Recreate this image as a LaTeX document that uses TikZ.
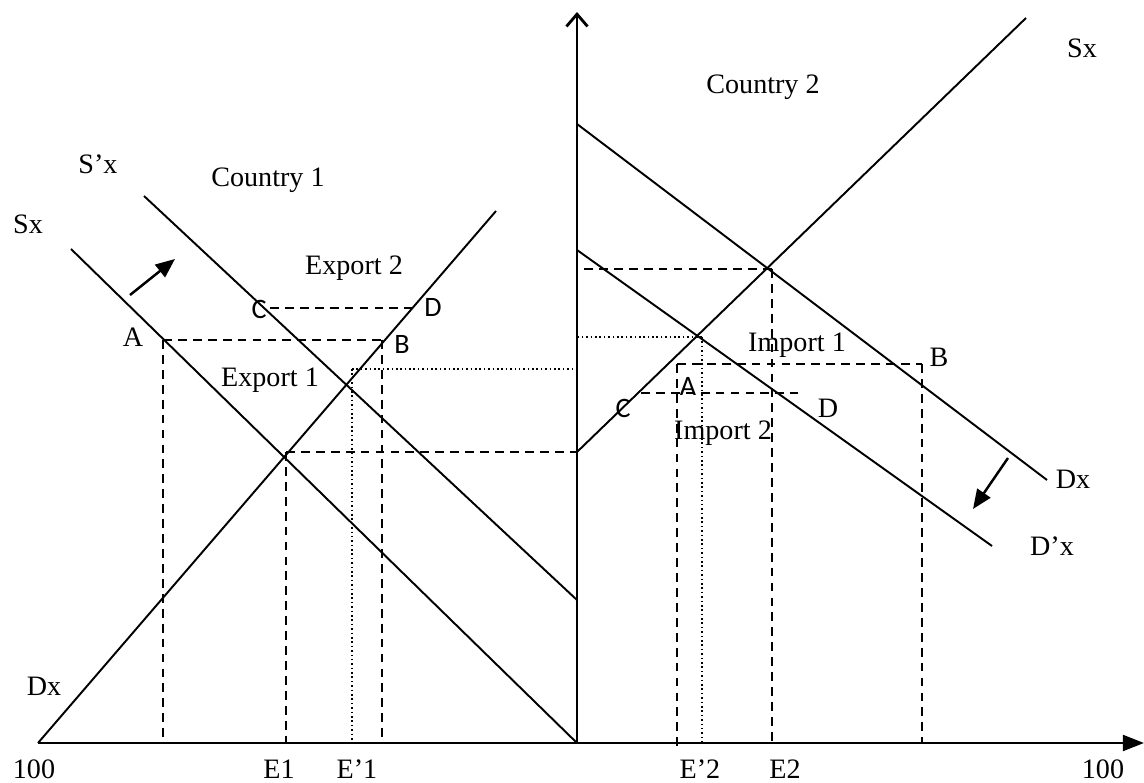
\documentclass[tikz,border=0pt]{standalone}
\usepackage{fontspec}
\setmainfont{Liberation Serif}
\newfontfamily\lettersans{Carlito}
\usetikzlibrary{arrows.meta}

\tikzset{
	axisline/.style={line width=1.6pt},
	curve/.style={line width=1.1pt},
	guide/.style={line width=0.9pt, dash pattern=on 5pt off 3.5pt},
	dotguide/.style={line width=0.9pt, dash pattern=on 0.9pt off 1.6pt},
	shift arrow/.style={line width=1.4pt, -{Triangle[length=11pt,width=9pt]}},
	lbl/.style={inner sep=0pt},
	ticklbl/.style={inner sep=0pt, anchor=base},
	sans lbl/.style={inner sep=0pt, font=\fontsize{16}{19}\selectfont\lettersans},
}

\begin{document}
\begin{tikzpicture}[x=0.02cm, y=-0.02cm, font=\fontsize{16}{19}\selectfont]
	\useasboundingbox (0,0) rectangle (1144,783);

	\coordinate (o1) at (38,743);
	\coordinate (o) at (577,743);
	\coordinate (xend) at (1144,743);
	\coordinate (yend) at (577,12);

	\coordinate (dxtop) at (496,211);
	\coordinate (sxa) at (71,249);
	\coordinate (sxb) at (577,743);
	\coordinate (spxa) at (144,196);
	\coordinate (spxb) at (577,600);

	\coordinate (sx2a) at (577,452);
	\coordinate (sx2b) at (1026,18);
	\coordinate (dx2a) at (577,124);
	\coordinate (dx2b) at (1047,480);
	\coordinate (dpx2a) at (577,250);
	\coordinate (dpx2b) at (992,546);

	\draw[axisline, -{Triangle[length=12pt,width=9pt]}] (o1) -- (xend);
	\draw[axisline, -{Straight Barb[length=7pt,width=12pt]}] (o) -- (yend);

	\draw[curve] (o1) -- (dxtop);
	\draw[curve] (sxa) -- (sxb);
	\draw[curve] (spxa) -- (spxb);
	\draw[curve] (sx2a) -- (sx2b);
	\draw[curve] (dx2a) -- (dx2b);
	\draw[curve] (dpx2a) -- (dpx2b);

	\draw[shift arrow] (130,295) coordinate (ar1a) -- (175,259) coordinate (ar1b);
	\draw[shift arrow] (1008,458) coordinate (ar2a) -- (973,509) coordinate (ar2b);

	% country 1
	\coordinate (pA) at (163,340);
	\coordinate (pB) at (382,340);
	\coordinate (pC) at (270,308);
	\coordinate (pD) at (415,308);
	\coordinate (pE1) at (286,452);
	\coordinate (pE1b) at (352,369);
	\draw[guide] (pA) -- (pB);
	\draw[guide] (pA) -- (pA |- o);
	\draw[guide] (pB) -- (pB |- o);
	\draw[guide] (pC) -- (pD);
	\draw[guide] (pE1) -- (pE1 -| o);
	\draw[guide] (pE1) -- (pE1 |- o);
	\draw[dotguide] (pE1b) -- (pE1b -| o);
	\draw[dotguide] (pE1b) -- (pE1b |- o);

	% country 2
	\coordinate (qE2) at (772,269);
	\coordinate (qE2b) at (702,337);
	\coordinate (qA) at (677,364);
	\coordinate (qB) at (922,364);
	\coordinate (qC) at (641,393);
	\coordinate (qD) at (798,393);
	\draw[guide] (qE2) -- (qE2 -| o);
	\draw[guide] (qE2) -- (qE2 |- o);
	\draw[dotguide] (qE2b) -- (qE2b -| o);
	\draw[dotguide] (qE2b) -- (qE2b |- o);
	\draw[guide] (qA) -- (qB);
	\draw[guide] (qA) -- ([yshift=-0.14cm]qA |- o);
	\draw[guide] (qB) -- (qB |- o);
	\draw[guide] (qC) -- (qD);

	\node[lbl] (lspx) at (98,164) {S’x};
	\node[lbl] (lsx) at (28,224) {Sx};
	\node[lbl] (lc1) at (268,180) {Country 1};
	\node[lbl] (lex2) at (354,268) {Export 2};
	\node[lbl] (lex1) at (270,380) {Export 1};
	\node[lbl] (lA) at (133,337) {A};
	\node[sans lbl] (lB) at (402,344) {B};
	\node[sans lbl] (lC) at (259,309) {C};
	\node[sans lbl] (lD) at (433,307) {D};
	\node[lbl] (ldx) at (44,686) {Dx};
	\node[ticklbl] (l100a) at (34,779) {100};
	\node[ticklbl] (lE1) at (279,779) {E1};
	\node[ticklbl] (lEp1) at (357,779) {E’1};

	\node[lbl] (lc2) at (763,87) {Country 2};
	\node[lbl] (lsx2) at (1082,48) {Sx};
	\node[lbl] (lim1) at (797,345) {Import 1};
	\node[lbl] (lim2) at (723,433) {Import 2};
	\node[sans lbl] (lA2) at (688,386) {A};
	\node[lbl] (lB2) at (939,357) {B};
	\node[sans lbl] (lC2) at (623,408) {C};
	\node[lbl] (lD2) at (828,408) {D};
	\node[lbl] (ldx2) at (1073,479) {Dx};
	\node[lbl] (ldpx2) at (1052,546) {D’x};
	\node[ticklbl] (lEp2) at (700,779) {E’2};
	\node[ticklbl] (lE2) at (785,779) {E2};
	\node[ticklbl] (l100b) at (1103,779) {100};
\end{tikzpicture}
\end{document}
